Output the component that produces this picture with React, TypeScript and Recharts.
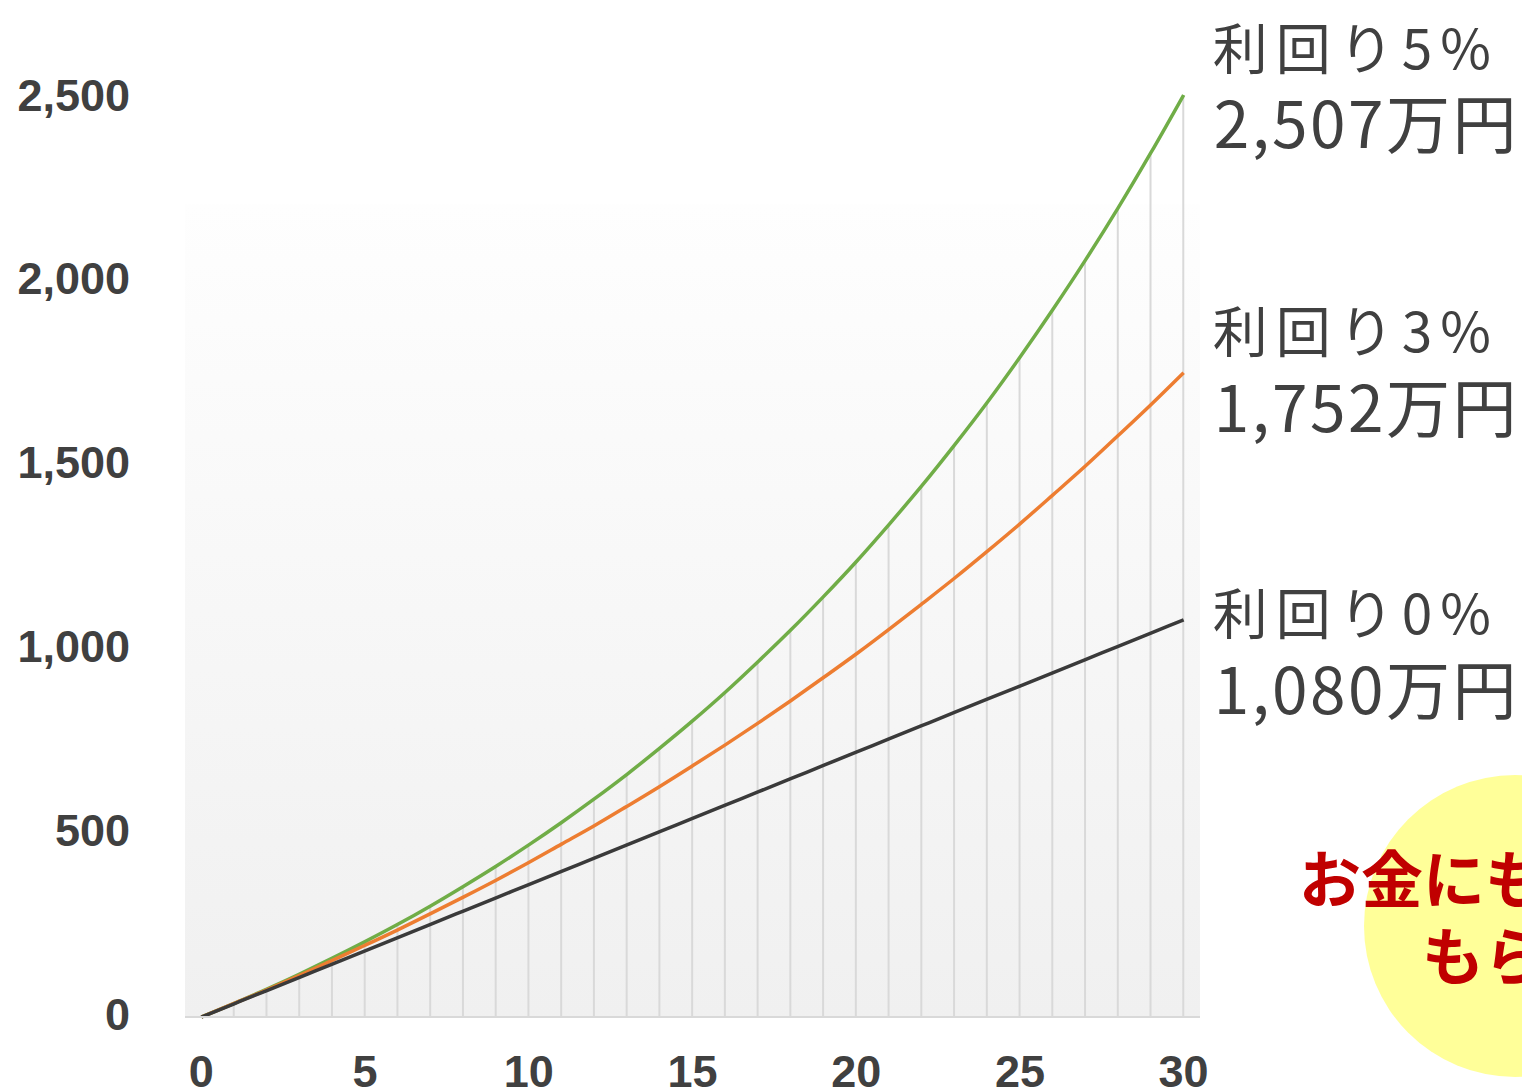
import React from "react";
import {
  ComposedChart,
  Line,
  Bar,
  XAxis,
  YAxis,
  ReferenceArea,
  LabelList,
} from "recharts";

// 積立シミュレーション（毎月3万円・30年）
const years = [
  0, 1, 2, 3, 4, 5, 6, 7, 8, 9, 10, 11, 12, 13, 14, 15, 16, 17, 18, 19, 20,
  21, 22, 23, 24, 25, 26, 27, 28, 29, 30,
];
const rate0 = [
  0, 36, 72, 108, 144, 180, 216, 252, 288, 324, 360, 396, 432, 468, 504, 540,
  576, 612, 648, 684, 720, 756, 792, 828, 864, 900, 936, 972, 1008, 1044, 1080,
];
const rate3 = [
  0, 37, 74, 113, 154, 195, 237, 281, 326, 372, 420, 470, 520, 573, 627, 683,
  740, 799, 860, 923, 987, 1054, 1123, 1193, 1266, 1341, 1419, 1498, 1581, 1665,
  1752,
];
const rate5 = [
  0, 37, 76, 117, 160, 205, 252, 302, 355, 410, 468, 529, 593, 660, 731, 805,
  883, 966, 1052, 1143, 1238, 1339, 1444, 1555, 1671, 1794, 1923, 2058, 2200,
  2350, 2507,
];
const xTicks = [0, 5, 10, 15, 20, 25, 30];
const yTicks = [0, 500, 1000, 1500, 2000, 2500];

const data = years.map((y, i) => ({
  year: y,
  r0: rate0[i],
  r3: rate3[i],
  r5: rate5[i],
}));

const W = 1522;
const H = 1089;
const TEXT = "#404040";
const CJK = '"Noto Sans CJK JP", "Noto Sans", sans-serif';
const TICK_FONT = '"Liberation Sans", Arial, sans-serif';

function endLabel(title: string, dy1: number, dy2: number) {
  return (props: any) => {
    const { x, y, index, value } = props;
    if (index !== years.length - 1) return null;
    const amount = Math.round(Number(value)).toLocaleString("en-US");
    return (
      <g fontFamily={CJK} fill={TEXT}>
        <text x={x + 29} y={y + dy1} fontSize={55} letterSpacing={8}>
          {title}
        </text>
        <text x={x + 30} y={y + dy2} fontSize={64} letterSpacing={2.5}>
          {amount}万円
        </text>
      </g>
    );
  };
}

export default function App() {
  return (
    <div
      style={{
        position: "fixed",
        left: 0,
        top: 0,
        width: W,
        height: H,
        overflow: "hidden",
        background: "#fff",
      }}
    >
      <ComposedChart
        width={W}
        height={H}
        data={data}
        margin={{ top: 95, right: 322, bottom: 0, left: 0 }}
      >
        <defs>
          <linearGradient id="plotBg" x1="0" y1="0" x2="0" y2="1">
            <stop offset="0%" stopColor="#fefefe" />
            <stop offset="100%" stopColor="#f0f0f0" />
          </linearGradient>
        </defs>
        <ReferenceArea
          x1={-0.5}
          x2={30.5}
          y1={0}
          y2={2210}
          fill="url(#plotBg)"
          fillOpacity={1}
          stroke="none"
        />
        <XAxis
          dataKey="year"
          type="number"
          domain={[-0.5, 30.5]}
          ticks={xTicks}
          allowDataOverflow
          height={72}
          tickSize={0}
          tickMargin={38}
          axisLine={{ stroke: "#d9d9d9", strokeWidth: 2 }}
          tick={{
            fill: TEXT,
            fontSize: 45,
            fontWeight: 700,
            fontFamily: TICK_FONT,
          }}
        />
        <YAxis
          type="number"
          domain={[0, 2500]}
          ticks={yTicks}
          width={185}
          tickSize={0}
          tickMargin={55}
          axisLine={false}
          tickFormatter={(v) => Number(v).toLocaleString("en-US")}
          tick={{
            fill: TEXT,
            fontSize: 45,
            fontWeight: 700,
            fontFamily: TICK_FONT,
            dy: -3,
          }}
        />
        {/* drop lines under the 5% curve */}
        <Bar dataKey="r5" barSize={2} fill="#d9d9d9" isAnimationActive={false} />
        <Line
          type="monotone"
          dataKey="r5"
          stroke="#70ad47"
          strokeWidth={3.5}
          dot={false}
          isAnimationActive={false}
        >
          <LabelList dataKey="r5" content={endLabel("利回り5%", -26, 53)} />
        </Line>
        <Line
          type="monotone"
          dataKey="r3"
          stroke="#ed7d31"
          strokeWidth={3.5}
          dot={false}
          isAnimationActive={false}
        >
          <LabelList dataKey="r3" content={endLabel("利回り3%", -21, 59)} />
        </Line>
        <Line
          type="monotone"
          dataKey="r0"
          stroke="#3a3a3a"
          strokeWidth={3.5}
          dot={false}
          isAnimationActive={false}
        >
          <LabelList dataKey="r0" content={endLabel("利回り0%", 14, 94)} />
        </Line>
      </ComposedChart>

      {/* callout bubble */}
      <div
        style={{
          position: "absolute",
          left: 1364,
          top: 775,
          width: 302,
          height: 302,
          borderRadius: "50%",
          background: "#ffff99",
        }}
      />
      <div
        style={{
          position: "absolute",
          left: 1215,
          top: 838,
          width: 600,
          textAlign: "center",
          fontFamily: CJK,
          fontWeight: 700,
          fontSize: 62,
          lineHeight: "77px",
          color: "#c00000",
        }}
      >
        <div>お金にも働いて</div>
        <div>もらう</div>
      </div>
    </div>
  );
}
